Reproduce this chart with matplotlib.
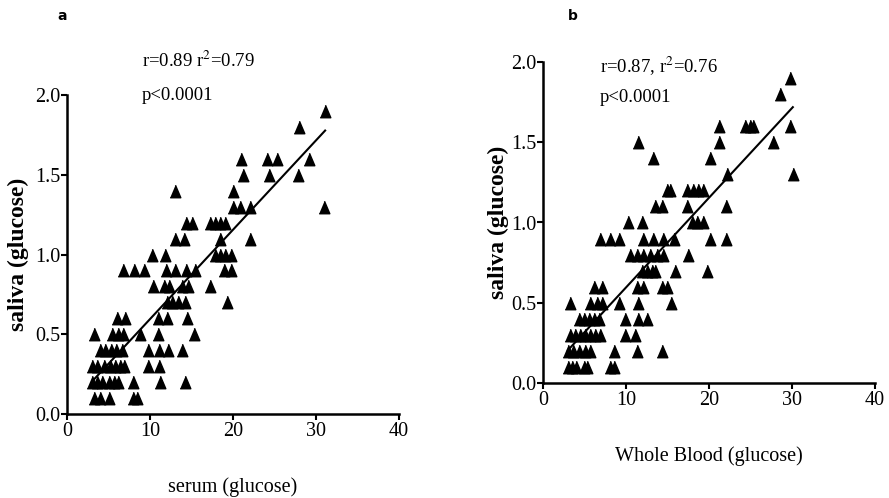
import numpy as np
import matplotlib
matplotlib.use('Agg')
import matplotlib.pyplot as plt

plt.rcParams['font.family'] = 'Liberation Serif'
plt.rcParams['mathtext.fontset'] = 'stix'

# panel a: serum vs saliva glucose
serum = [3.2, 4.0, 5.0, 7.9, 8.4,
         3.05, 3.65, 4.26, 5.1, 5.7, 6.2, 8.0, 11.2, 14.2,
         3.05, 3.65, 4.4, 5.2, 5.8, 6.4, 6.9, 9.8, 11.1,
         4.0, 4.6, 5.3, 5.9, 6.6, 9.8, 11.1, 12.2, 13.8,
         3.2, 5.4, 6.1, 6.8, 8.8, 11.0, 15.3,
         6.0, 7.0, 11.0, 12.1, 14.5,
         12.0, 12.7, 13.4, 14.2, 19.3,
         10.4, 11.7, 12.3, 13.8, 14.6, 17.2,
         6.8, 8.1, 9.3, 11.9, 13.0, 14.3, 15.4, 18.9, 19.8,
         10.3, 11.8, 17.8, 18.4, 19.0, 19.7,
         13.0, 14.1, 18.4, 22.0,
         14.3, 15.0, 17.2, 17.8, 18.4, 19.0,
         20.0, 20.8, 22.0, 31.0,
         13.0, 20.0,
         21.2, 24.3, 27.8,
         21.0, 24.1, 25.3, 29.2,
         28.0, 31.1]
saliva_a = [0.1] * 5 + [0.2] * 9 + [0.3] * 9 + [0.4] * 9 + [0.5] * 7 + [0.6] * 5 + \
           [0.7] * 5 + [0.8] * 6 + [0.9] * 9 + [1.0] * 6 + [1.1] * 4 + [1.2] * 6 + \
           [1.3] * 4 + [1.4] * 2 + [1.5] * 3 + [1.6] * 4 + [1.8] + [1.9]

# panel b: whole blood vs saliva glucose
blood = [3.0, 3.5, 4.0, 4.9, 5.3, 8.1, 8.5,
         3.0, 3.6, 4.3, 5.1, 5.7, 8.5, 11.3, 14.3,
         3.25, 3.85, 4.5, 5.1, 5.7, 6.3, 6.9, 9.9, 11.1,
         4.3, 4.9, 5.5, 6.1, 6.7, 9.9, 11.4, 12.5,
         3.25, 5.7, 6.5, 7.1, 9.1, 11.4, 15.4,
         6.1, 7.1, 11.3, 12.1, 14.3, 14.9,
         11.9, 12.5, 13.1, 13.5, 15.9, 19.8,
         10.5, 11.3, 12.1, 12.9, 13.7, 14.5, 17.5,
         6.9, 8.1, 9.1, 12.1, 13.3, 14.5, 15.8, 20.1, 22.1,
         10.3, 11.9, 17.9, 18.5, 19.3,
         13.5, 14.3, 17.4, 22.1,
         14.9, 15.3, 17.3, 18.1, 18.7, 19.3,
         22.2, 30.1,
         13.2, 20.1,
         11.4, 21.2, 27.7,
         21.2, 24.3, 24.9, 25.3, 29.7,
         28.6, 29.8]
saliva_b = [0.1] * 7 + [0.2] * 8 + [0.3] * 9 + [0.4] * 8 + [0.5] * 7 + [0.6] * 6 + \
           [0.7] * 6 + [0.8] * 7 + [0.9] * 9 + [1.0] * 5 + [1.1] * 4 + [1.2] * 6 + \
           [1.3] * 2 + [1.4] * 2 + [1.5] * 3 + [1.6] * 5 + [1.8] + [1.9]

xticks = [0, 10, 20, 30, 40]
yticks = [0.0, 0.5, 1.0, 1.5, 2.0]

# slightly tall triangle, like the squeezed original
tri = [(-0.85, -1.0), (0.85, -1.0), (0.0, 1.0)]

W, H = 889, 498
fig = plt.figure(figsize=(W / 100, H / 100), dpi=100)
ax1 = fig.add_axes([67 / W, 1 - 414 / H, 332 / W, 319 / H])
ax2 = fig.add_axes([543 / W, 1 - 383 / H, 332 / W, 321 / H])


def panel(ax, x, y, xlabel, ypad):
    x = np.array(x)
    y = np.array(y)
    ax.plot(x, y, ls='none', marker=tri, color='black', ms=9, clip_on=False)
    b, a = np.polyfit(x, y, 1)
    xx = np.array([x.min(), x.max()])
    ax.plot(xx, a + b * xx, color='black', lw=1.5)
    ax.set_xlim(0, 40)
    ax.set_ylim(0, 2.0)
    ax.set_xticks(xticks)
    ax.set_yticks(yticks)
    ax.set_yticklabels(['%.1f' % t for t in yticks])
    for s in ['top', 'right']:
        ax.spines[s].set_visible(False)
    for s in ['left', 'bottom']:
        ax.spines[s].set_linewidth(1.8)
    ax.tick_params(direction='out', length=4, width=1.5, labelsize=14.5)
    ax.tick_params(axis='x', pad=2)
    ax.tick_params(axis='y', pad=1)
    ax.set_ylabel('saliva (glucose)', fontsize=17, fontweight='bold', labelpad=ypad)
    ax.set_xlabel(xlabel, fontsize=14.5, labelpad=26)


panel(ax1, serum, saliva_a, 'serum (glucose)', 4)
panel(ax2, blood, saliva_b, 'Whole Blood (glucose)', 1)

fig.text(142 / W, 1 - 67 / H, 'r=0.89 r$^{2}$=0.79', fontsize=13.5, va='baseline')
fig.text(142 / W, 1 - 100 / H, 'p<0.0001', fontsize=13.5, va='baseline')
fig.text(600 / W, 1 - 73 / H, 'r=0.87, r$^{2}$=0.76', fontsize=13.5, va='baseline')
fig.text(600 / W, 1 - 102 / H, 'p<0.0001', fontsize=13.5, va='baseline')

fig.text(57 / W, 1 - 20 / H, 'a', fontsize=10, fontweight='bold', family='DejaVu Sans', va='baseline')
fig.text(568 / W, 1 - 20 / H, 'b', fontsize=10, fontweight='bold', family='DejaVu Sans', va='baseline')

fig.savefig('out.png', dpi=100)
